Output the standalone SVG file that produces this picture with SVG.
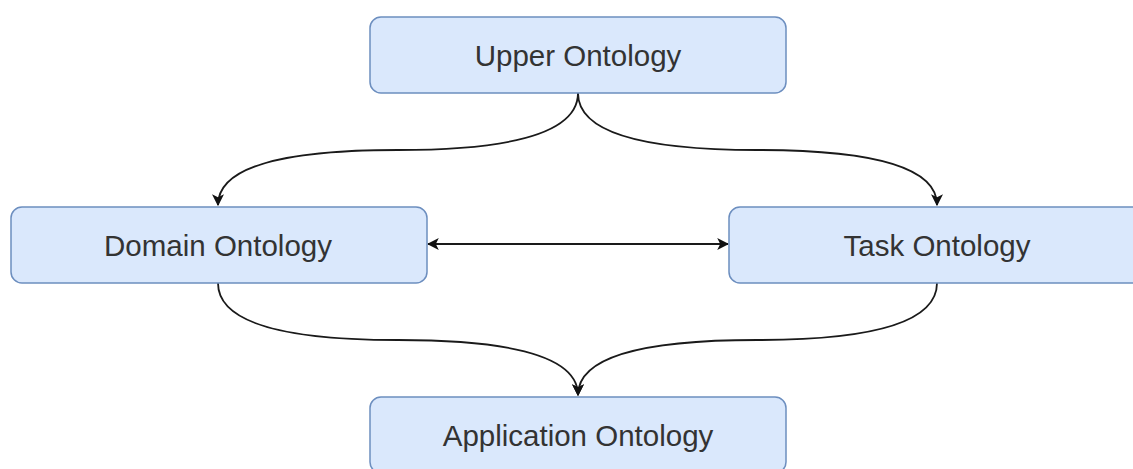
<svg xmlns="http://www.w3.org/2000/svg" width="1133" height="469" viewBox="0 0 1133 469">
<style>
.node rect{fill:#dae8fc;stroke:#6c8ebf;stroke-width:1.5}
.node text{font-family:"Liberation Sans",Arial,sans-serif;font-size:29.5px;fill:#333333;text-anchor:middle}
.edge{fill:none;stroke:#1a1a1a;stroke-width:1.8}
</style>
<defs>
<marker id="ah" viewBox="0 0 10 10" refX="9" refY="5" markerWidth="12" markerHeight="12" markerUnits="userSpaceOnUse" orient="auto-start-reverse">
<path d="M0,0 L10,5 L0,10 L2.5,5 Z" fill="#111"/>
</marker>
</defs>
<rect width="1133" height="469" fill="#ffffff"/>
<g id="connectors">
<path class="edge" d="M578,93 Q578,150 398,150 Q218,150 218,205" marker-end="url(#ah)"/>
<path class="edge" d="M578,93 Q578,150 757,150 Q937,150 937,205" marker-end="url(#ah)"/>
<path class="edge" d="M218,283 Q218,340 398,340 Q578,340 578,395" marker-end="url(#ah)"/>
<path class="edge" d="M937,283 Q937,340 757,340 Q578,340 578,395" marker-end="url(#ah)"/>
<path class="edge" d="M428,244 L728,244" marker-start="url(#ah)" marker-end="url(#ah)"/>
</g>
<g id="upper" class="node"><rect x="370" y="17" width="416" height="76" rx="11"/><text x="578" y="66">Upper Ontology</text></g>
<g id="domain" class="node"><rect x="11" y="207" width="416" height="76" rx="11"/><text x="218" y="256">Domain Ontology</text></g>
<g id="task" class="node"><rect x="729" y="207" width="416" height="76" rx="11"/><text x="937" y="256">Task Ontology</text></g>
<g id="application" class="node"><rect x="370" y="397" width="416" height="76" rx="11"/><text x="578" y="446">Application Ontology</text></g>
</svg>
